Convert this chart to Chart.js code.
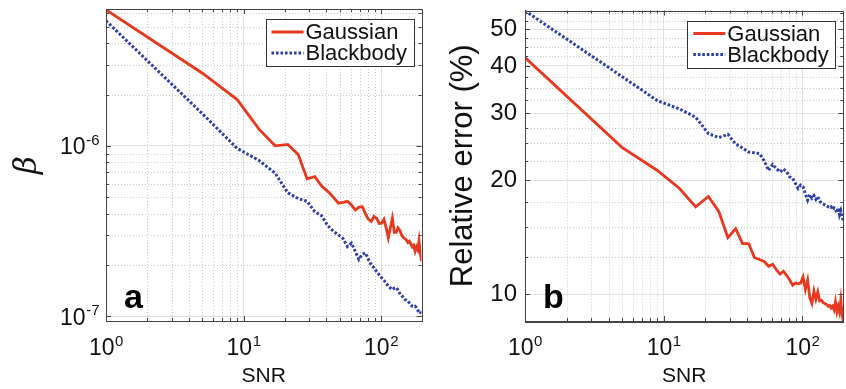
<!DOCTYPE html>
<html>
<head>
<meta charset="utf-8">
<script src="https://cdn.jsdelivr.net/npm/chart.js@4.4.1/dist/chart.umd.min.js"></script>
<style>
  html, body { margin: 0; padding: 0; background: #fff; }
  #wrap { position: relative; width: 846px; height: 389px; }
  #boxA { position: absolute; left: 0; top: 0; }
  #boxB { position: absolute; left: 430px; top: 0; }
</style>
</head>
<body>
<div id="wrap">
  <div id="boxA"><canvas id="graficoA" width="430" height="389"></canvas></div>
  <div id="boxB"><canvas id="graficoB" width="416" height="389"></canvas></div>
</div>
<script>
// SNR values (x)
const snr = [1, 5, 9, 13, 17, 21, 25, 29, 33, 37, 41, 45, 49, 53, 57, 61, 65, 69, 73, 77,
  81, 85, 89, 93, 97, 101, 105, 109, 113, 117, 121, 125, 129, 133, 137, 141, 145, 149, 153, 157,
  161, 165, 169, 173, 177, 181, 185, 189, 193, 197];

// panel a: beta
const betaGaussian = [6.3e-6, 2.68e-6, 1.87e-6, 1.25e-6, 1.0e-6, 1.02e-6, 8.9e-7, 6.4e-7, 6.6e-7, 5.8e-7,
  5.4e-7, 5.0e-7, 4.6e-7, 4.65e-7, 4.72e-7, 4.5e-7, 4.2e-7, 4.35e-7, 4.4e-7, 4.0e-7,
  3.7e-7, 3.6e-7, 3.85e-7, 3.75e-7, 3.5e-7, 3.51e-7, 3.7e-7, 3.3e-7, 2.88e-7, 3.3e-7,
  3.76e-7, 3.1e-7, 3.1e-7, 3.3e-7, 3.2e-7, 3.0e-7, 2.9e-7, 2.85e-7, 2.8e-7, 2.7e-7,
  2.75e-7, 2.65e-7, 2.55e-7, 2.6e-7, 2.4e-7, 2.55e-7, 2.45e-7, 2.77e-7, 2.35e-7, 2.1e-7];
const betaBlackbody = [5.43e-6, 1.55e-6, 9.66e-7, 8.2e-7, 6.9e-7, 5.3e-7, 4.9e-7, 4.72e-7, 4.1e-7, 3.88e-7,
  3.4e-7, 3.15e-7, 3.0e-7, 2.85e-7, 2.56e-7, 2.68e-7, 2.4e-7, 2.15e-7, 2.3e-7, 2.35e-7,
  2.15e-7, 2.0e-7, 1.92e-7, 1.82e-7, 1.75e-7, 1.68e-7, 1.62e-7, 1.56e-7, 1.5e-7, 1.46e-7,
  1.43e-7, 1.46e-7, 1.47e-7, 1.42e-7, 1.36e-7, 1.32e-7, 1.29e-7, 1.25e-7, 1.24e-7, 1.22e-7,
  1.19e-7, 1.16e-7, 1.14e-7, 1.13e-7, 1.14e-7, 1.12e-7, 1.08e-7, 1.06e-7, 1.07e-7, 1.0e-7];

// panel b: relative error (%)
const errGaussian = [42.1, 24.4, 21.2, 19.0, 17.0, 18.1, 16.5, 14.1, 14.9, 13.6,
  13.6, 12.5, 12.35, 12.2, 11.85, 12.0, 11.6, 11.3, 11.5, 11.2,
  10.9, 10.56, 10.7, 10.65, 10.7, 11.1, 10.3, 10.9, 9.8, 9.46,
  10.2, 9.7, 10.14, 9.6, 9.64, 9.5, 9.45, 9.4, 9.3, 9.35,
  9.2, 9.3, 9.1, 9.55, 9.0, 9.3, 8.98, 9.64, 8.9, 8.46];
const errBlackbody = [55.9, 37.5, 32.4, 30.8, 29.3, 26.5, 25.9, 26.4, 24.9, 24.3,
  23.7, 23.6, 23.5, 22.5, 21.2, 22.0, 21.4, 21.0, 21.4, 21.0,
  20.4, 20.2, 19.6, 19.0, 19.4, 19.2, 18.4, 17.7, 18.3, 17.9,
  18.2, 17.8, 18.1, 17.6, 17.4, 17.3, 17.2, 17.1, 17.0, 16.9,
  17.0, 16.7, 16.9, 16.8, 16.4, 16.9, 16.2, 16.6, 16.0, 15.6];

// ticks (power labels written as base^exponent)
const xTicks = [1, 10, 100];
const xTickLabels = ['10^0', '10^1', '10^2'];
const xMinor = [2, 3, 4, 5, 6, 7, 8, 9, 20, 30, 40, 50, 60, 70, 80, 90];
const betaTicks = [1e-7, 1e-6];
const betaTickLabels = ['10^-7', '10^-6'];
const betaMinor = [2e-7, 3e-7, 4e-7, 5e-7, 6e-7, 7e-7, 8e-7, 9e-7, 2e-6, 3e-6, 4e-6, 5e-6, 6e-6];
const errTicks = [10, 20, 30, 40, 50];
const errTickLabels = ['10', '20', '30', '40', '50'];
const errMinor = [12.5, 15, 17.5, 22.5, 25, 27.5, 32.5, 35, 37.5, 42.5, 45, 47.5, 52.5, 55];

const FONTE = "'Liberation Sans', Arial, Helvetica, sans-serif";
const COR_G = '#e8391f';
const COR_B = '#2f3ea8';

// desenha "10" com expoente sobrescrito
function potencia(ctx, label, x, y, align) {
  const [base, exp] = label.split('^');
  ctx.font = '23px ' + FONTE;
  const w1 = ctx.measureText(base).width;
  ctx.font = '15px ' + FONTE;
  const w2 = ctx.measureText(exp).width;
  const x0 = align === 'right' ? x - w1 - w2 : x - (w1 + w2) / 2;
  ctx.font = '23px ' + FONTE;
  ctx.fillText(base, x0, y);
  ctx.font = '15px ' + FONTE;
  ctx.fillText(exp, x0 + w1 + 0.5, y - 9.5);
}

// moldura estilo MATLAB: grade menor pontilhada, caixa, ticks para dentro, legenda, letra
const moldura = {
  id: 'moldura',
  beforeDatasetsDraw(chart, args, o) {
    const { ctx, chartArea: a, scales: { x, y } } = chart;
    ctx.save();
    ctx.strokeStyle = '#cccccc';
    ctx.lineWidth = 1;
    ctx.setLineDash([1, 2]);
    o.minorX.forEach(v => {
      const px = Math.round(x.getPixelForValue(v)) + 0.5;
      ctx.beginPath(); ctx.moveTo(px, a.top); ctx.lineTo(px, a.bottom); ctx.stroke();
    });
    o.minorY.forEach(v => {
      const py = Math.round(y.getPixelForValue(v)) + 0.5;
      ctx.beginPath(); ctx.moveTo(a.left, py); ctx.lineTo(a.right, py); ctx.stroke();
    });
    ctx.restore();
  },
  afterDatasetsDraw(chart, args, o) {
    const { ctx, chartArea: a, scales: { x, y } } = chart;
    ctx.save();
    // caixa
    ctx.strokeStyle = '#444';
    ctx.lineWidth = 1;
    ctx.strokeRect(Math.round(a.left) + 0.5, Math.round(a.top) + 0.5,
      Math.round(a.right - a.left), Math.round(a.bottom - a.top));
    // ticks para dentro
    const tick = (vals, len) => {
      vals.forEach(v => {
        const px = Math.round(x.getPixelForValue(v)) + 0.5;
        ctx.beginPath();
        ctx.moveTo(px, a.bottom); ctx.lineTo(px, a.bottom - len);
        ctx.moveTo(px, a.top); ctx.lineTo(px, a.top + len);
        ctx.stroke();
      });
    };
    const tickY = (vals, len) => {
      vals.forEach(v => {
        const py = Math.round(y.getPixelForValue(v)) + 0.5;
        ctx.beginPath();
        ctx.moveTo(a.left, py); ctx.lineTo(a.left + len, py);
        ctx.moveTo(a.right, py); ctx.lineTo(a.right - len, py);
        ctx.stroke();
      });
    };
    tick(o.minorX, 3); tick(o.majorX, 5);
    tickY(o.minorY, 3); tickY(o.majorY, 5);

    // rótulos em potência de 10
    ctx.fillStyle = '#111';
    ctx.textBaseline = 'alphabetic';
    ctx.textAlign = 'left';
    o.xLabels.forEach((lab, i) => {
      potencia(ctx, lab, x.getPixelForValue(o.majorX[i]), a.bottom + 34, 'center');
    });
    if (o.yLabels) {
      o.yLabels.forEach((lab, i) => {
        potencia(ctx, lab, a.left - 7, y.getPixelForValue(o.majorY[i]) + 8.5, 'right');
      });
    }

    // legenda
    const w = 148, h = 47;
    const lx = a.right - 8 - w, ly = a.top + 10;
    ctx.fillStyle = '#fff';
    ctx.fillRect(lx, ly, w, h);
    ctx.strokeStyle = '#333';
    ctx.strokeRect(Math.round(lx) + 0.5, Math.round(ly) + 0.5, w, h);
    ctx.font = '22px ' + FONTE;
    ctx.textBaseline = 'middle';
    chart.data.datasets.forEach((ds, i) => {
      const cy = ly + 13 + i * 21;
      ctx.strokeStyle = ds.borderColor;
      ctx.lineWidth = ds.borderWidth;
      ctx.setLineDash(ds.borderDash || []);
      ctx.beginPath(); ctx.moveTo(lx + 6, cy); ctx.lineTo(lx + 38, cy); ctx.stroke();
      ctx.setLineDash([]);
      ctx.fillStyle = '#111';
      ctx.fillText(ds.label, lx + 40, cy + 1);
    });

    // letra do painel
    ctx.font = 'bold 34px ' + FONTE;
    ctx.fillStyle = '#000';
    ctx.textBaseline = 'alphabetic';
    ctx.fillText(o.letra, a.left + 18, a.bottom - 13);
    ctx.restore();
  }
};

function montaGrafico(id, cfg) {
  const ctx = document.getElementById(id).getContext('2d');
  return new Chart(ctx, {
    type: 'line',
    data: {
      datasets: [{
        label: 'Gaussian',
        data: snr.map((s, i) => ({ x: s, y: cfg.gauss[i] })),
        borderColor: COR_G,
        borderWidth: 2.8,
        pointRadius: 0,
        tension: 0
      }, {
        label: 'Blackbody',
        data: snr.map((s, i) => ({ x: s, y: cfg.black[i] })),
        borderColor: COR_B,
        borderWidth: 3,
        borderDash: [2.6, 1.9],
        pointRadius: 0,
        tension: 0
      }]
    },
    options: {
      responsive: false,
      animation: false,
      layout: { padding: { left: 0, right: cfg.padRight, top: cfg.padTop, bottom: 0 } },
      plugins: {
        legend: { display: false },
        tooltip: { enabled: false },
        moldura: {
          minorX: xMinor, majorX: xTicks, xLabels: xTickLabels,
          minorY: cfg.minorY, majorY: cfg.ticksY,
          yLabels: cfg.potencia ? cfg.tickLabels : null,
          letra: cfg.letra
        }
      },
      scales: {
        x: {
          type: 'logarithmic',
          min: 1,
          max: 197,
          afterBuildTicks: s => { s.ticks = xTicks.map(v => ({ value: v })); },
          afterFit: s => { s.height = 68; s.paddingLeft = 0; s.paddingRight = 0; },
          ticks: { display: false, autoSkip: false },
          grid: { color: '#e2e2e2', lineWidth: 1, drawTicks: false },
          border: { display: true, color: '#444', width: 1 },
          title: {
            display: true, text: 'SNR', color: '#111',
            font: { family: FONTE, size: 21, lineHeight: 1 },
            padding: { top: 0, bottom: 2.5 }
          }
        },
        y: {
          type: 'logarithmic',
          min: cfg.minY,
          max: cfg.maxY,
          afterBuildTicks: s => { s.ticks = cfg.ticksY.map(v => ({ value: v })); },
          afterFit: s => { s.width = cfg.yWidth; s.paddingTop = 0; s.paddingBottom = 0; },
          ticks: {
            display: !cfg.potencia,
            autoSkip: false,
            padding: 8,
            color: '#111',
            font: { family: FONTE, size: 24 },
            callback: (v, i) => cfg.tickLabels[i]
          },
          grid: { color: '#e2e2e2', lineWidth: 1, drawTicks: false },
          border: { display: true, color: '#444', width: 1 },
          title: {
            display: true, text: cfg.titulo, color: '#111',
            font: cfg.tituloFonte,
            padding: { top: cfg.tituloPad, bottom: 0 }
          }
        }
      }
    },
    plugins: [moldura]
  });
}

montaGrafico('graficoA', {
  gauss: betaGaussian, black: betaBlackbody,
  minY: 9.35e-8, maxY: 6.37e-6,
  ticksY: betaTicks, tickLabels: betaTickLabels, minorY: betaMinor, potencia: true,
  yWidth: 106, padRight: 8.5, padTop: 9,
  titulo: 'β',
  tituloFonte: { family: "'DejaVu Serif', 'Liberation Serif', serif", style: 'italic', size: 31, lineHeight: 1 },
  tituloPad: 12,
  letra: 'a'
});

montaGrafico('graficoB', {
  gauss: errGaussian, black: errBlackbody,
  minY: 8.5, maxY: 56,
  ticksY: errTicks, tickLabels: errTickLabels, minorY: errMinor, potencia: false,
  yWidth: 95, padRight: 2.7, padTop: 10.5,
  titulo: 'Relative error (%)',
  tituloFonte: { family: FONTE, size: 31, lineHeight: 1 },
  tituloPad: 17.5,
  letra: 'b'
});
</script>
</body>
</html>
